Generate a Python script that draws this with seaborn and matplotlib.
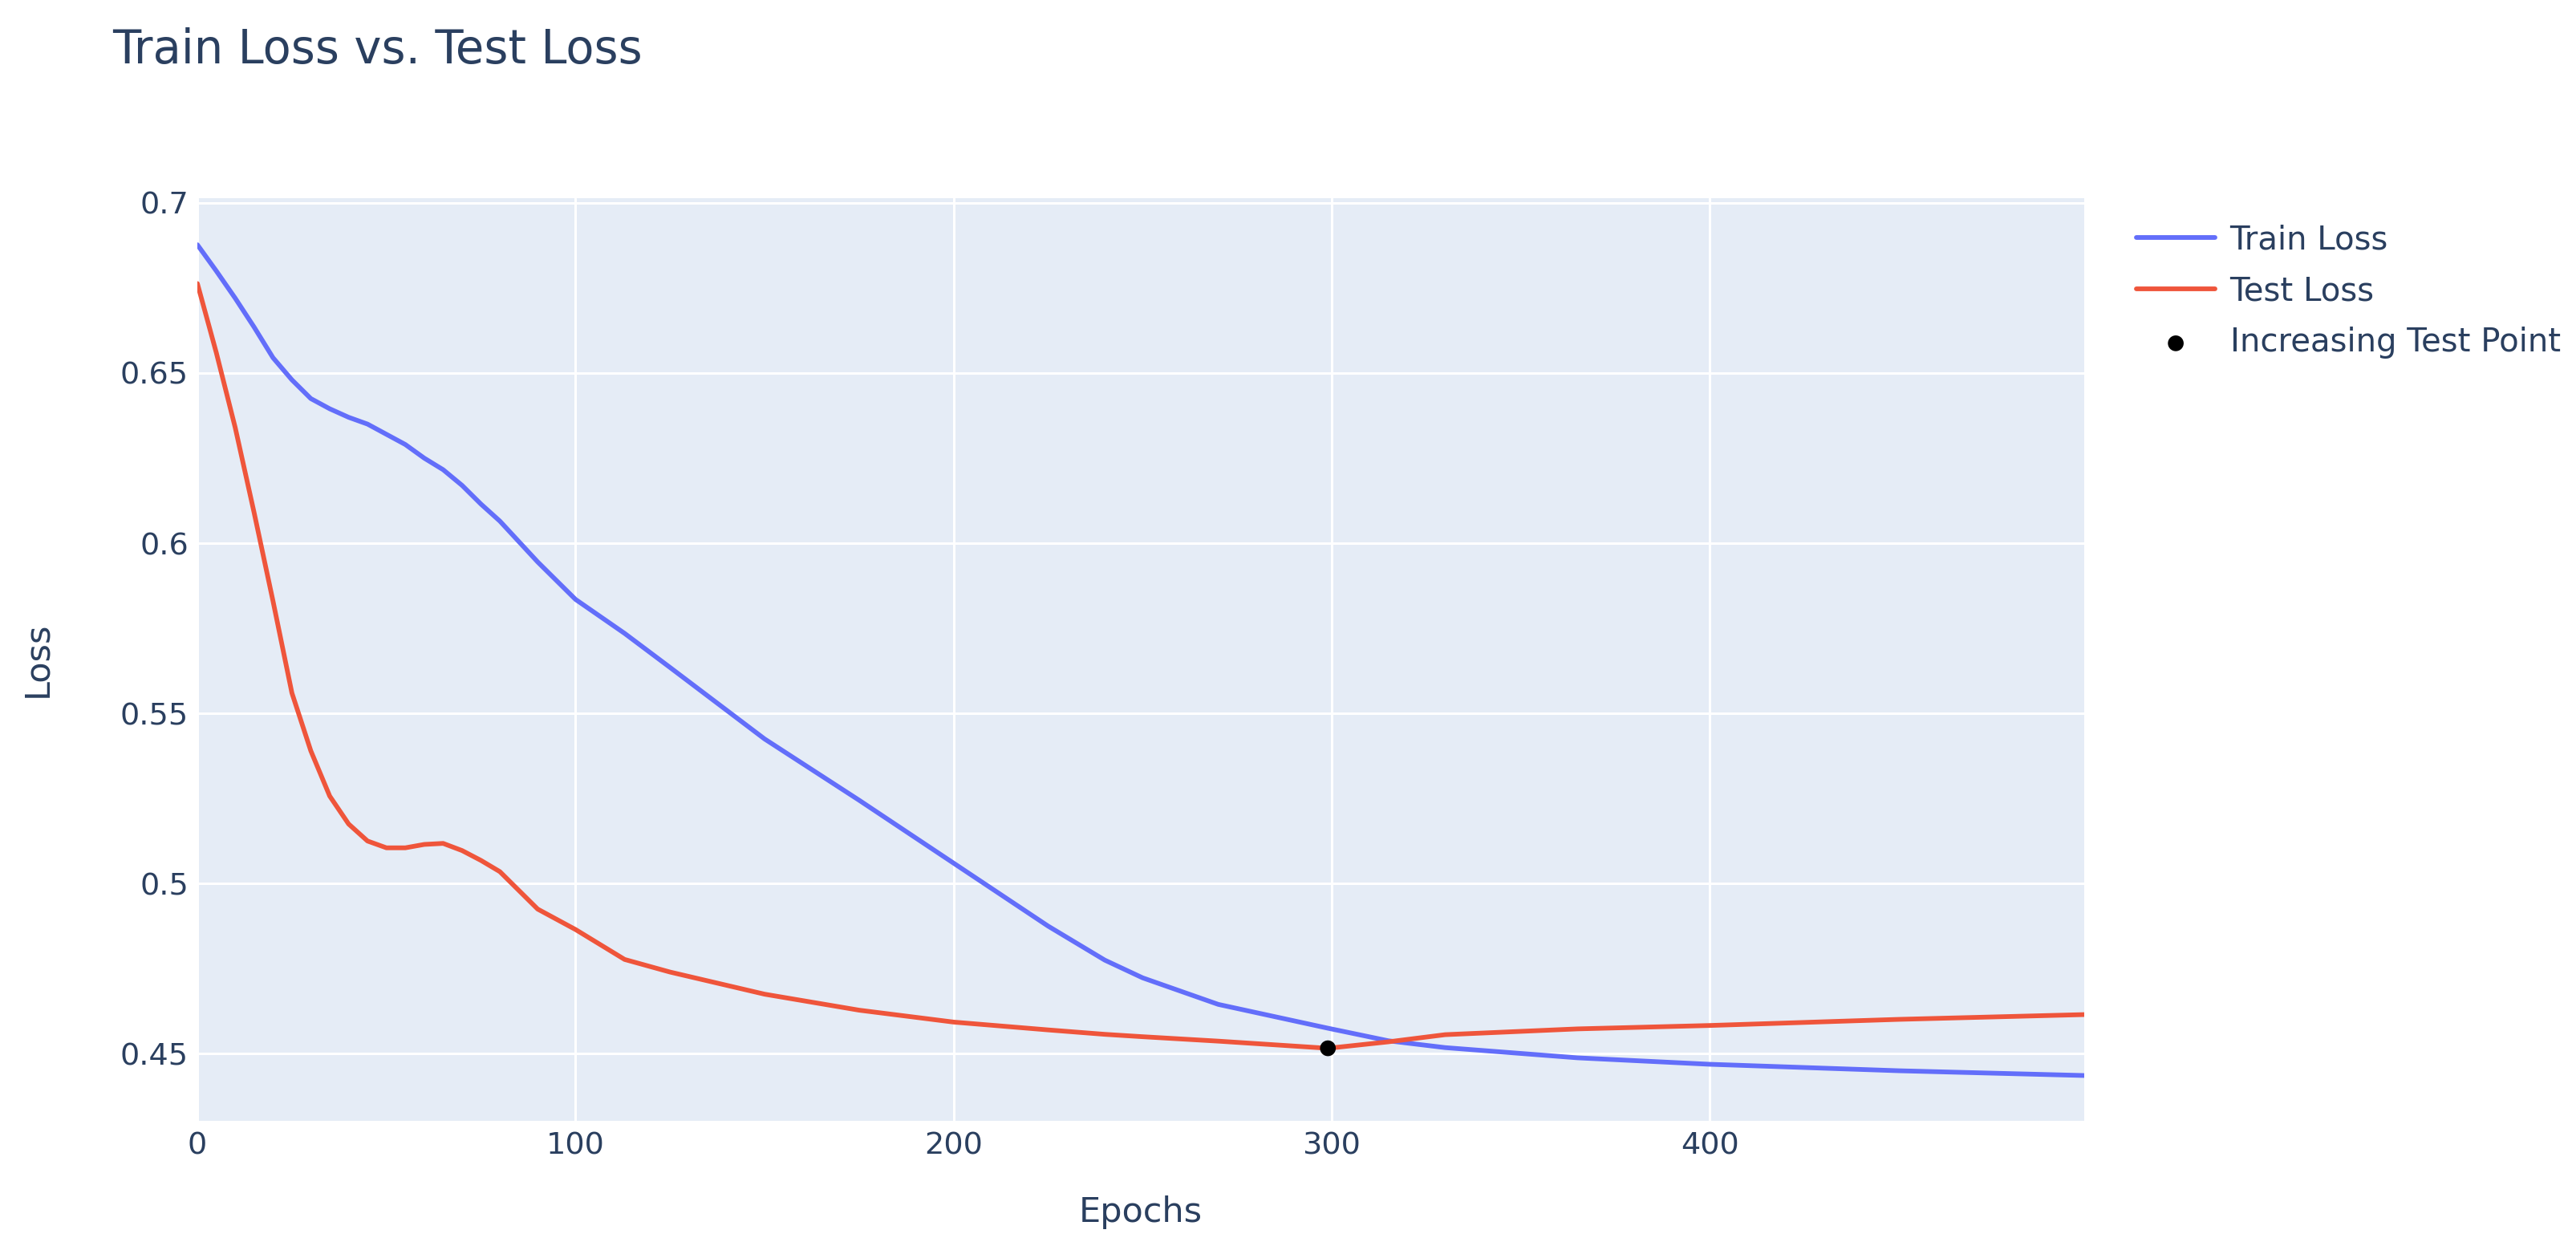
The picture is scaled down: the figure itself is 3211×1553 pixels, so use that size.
import pandas as pd
import seaborn as sns
import matplotlib.pyplot as plt

# dati
epochs = [0, 5, 10, 15, 20, 25, 30, 35, 40, 45, 50, 55, 60, 65, 70, 75, 80, 90, 100,
          113, 125, 150, 175, 200, 225, 240, 250, 270, 299, 315, 330, 365, 400, 450, 499]
train_loss = [0.6877, 0.680, 0.672, 0.6635, 0.6545, 0.648, 0.6425, 0.6395, 0.637, 0.635,
              0.632, 0.629, 0.625, 0.6216, 0.617, 0.6115, 0.6065, 0.5945, 0.5835,
              0.5735, 0.5635, 0.5425, 0.5245, 0.506, 0.4875, 0.4775, 0.4723, 0.4645,
              0.4575, 0.4538, 0.4518, 0.4488, 0.4469, 0.4450, 0.4436]
test_loss = [0.6763, 0.656, 0.634, 0.609, 0.583, 0.556, 0.539, 0.5257, 0.5175, 0.5125,
             0.5105, 0.5105, 0.5115, 0.5118, 0.5097, 0.5068, 0.5035, 0.4925, 0.4865,
             0.4777, 0.474, 0.4675, 0.4628, 0.4593, 0.457, 0.4557, 0.455, 0.4537,
             0.4516, 0.4535, 0.4556, 0.4573, 0.4583, 0.4601, 0.4615]
point_epoch = [299]
point_loss = [0.4516]

x_ticks = [0, 100, 200, 300, 400]
y_ticks = [0.45, 0.5, 0.55, 0.6, 0.65, 0.7]
y_labels = ["0.45", "0.5", "0.55", "0.6", "0.65", "0.7"]

df = pd.DataFrame({"epoch": epochs, "train": train_loss, "test": test_loss})
df_point = pd.DataFrame({"epoch": point_epoch, "loss": point_loss})

text_col = "#2a3f5f"
sns.set_theme(style="darkgrid", rc={
    "axes.facecolor": "#E5ECF6",
    "grid.color": "white",
    "grid.linewidth": 2.2,
    "figure.facecolor": "white",
})
plt.rcParams["font.family"] = ["DejaVu Sans"]

fig = plt.figure(figsize=(32.12, 15.53), dpi=100)
ax = fig.add_axes([0.0766, 0.1005, 0.8088 - 0.0766, 0.841 - 0.1005])

sns.lineplot(data=df, x="epoch", y="train", color="#636EFA", linewidth=4.2,
             label="Train Loss", ax=ax)
sns.lineplot(data=df, x="epoch", y="test", color="#EF553B", linewidth=4.2,
             label="Test Loss", ax=ax)
sns.scatterplot(data=df_point, x="epoch", y="loss", color="black", s=200,
                edgecolor="none", label="Increasing Test Point", ax=ax, zorder=5)

ax.set_xlim(0, 499)
ax.set_ylim(0.4303, 0.7014)
ax.set_xticks(x_ticks)
ax.set_yticks(y_ticks)
ax.set_yticklabels(y_labels)
ax.tick_params(axis="both", length=0, labelsize=27.5, labelcolor=text_col)
ax.tick_params(axis="y", pad=8)
ax.tick_params(axis="x", pad=10)
for s in ax.spines.values():
    s.set_visible(False)

ax.set_xlabel("Epochs", fontsize=31, color=text_col)
ax.set_ylabel("Loss", fontsize=31, color=text_col)
ax.xaxis.set_label_coords(0.5, -0.081)
ax.yaxis.set_label_coords(-0.076, 0.5)

fig.text(140 / 3212, 1 - 62 / 1553, "Train Loss vs. Test Loss", fontsize=41.5,
         color=text_col, ha="left", va="center")

ax.legend(loc="upper left", bbox_to_anchor=(1.0276, 0.972), frameon=False,
          fontsize=29, labelcolor=text_col, handlelength=2.45, handletextpad=0.45,
          labelspacing=0.6, borderpad=0, borderaxespad=0)

plt.savefig("out.png", dpi=100)
